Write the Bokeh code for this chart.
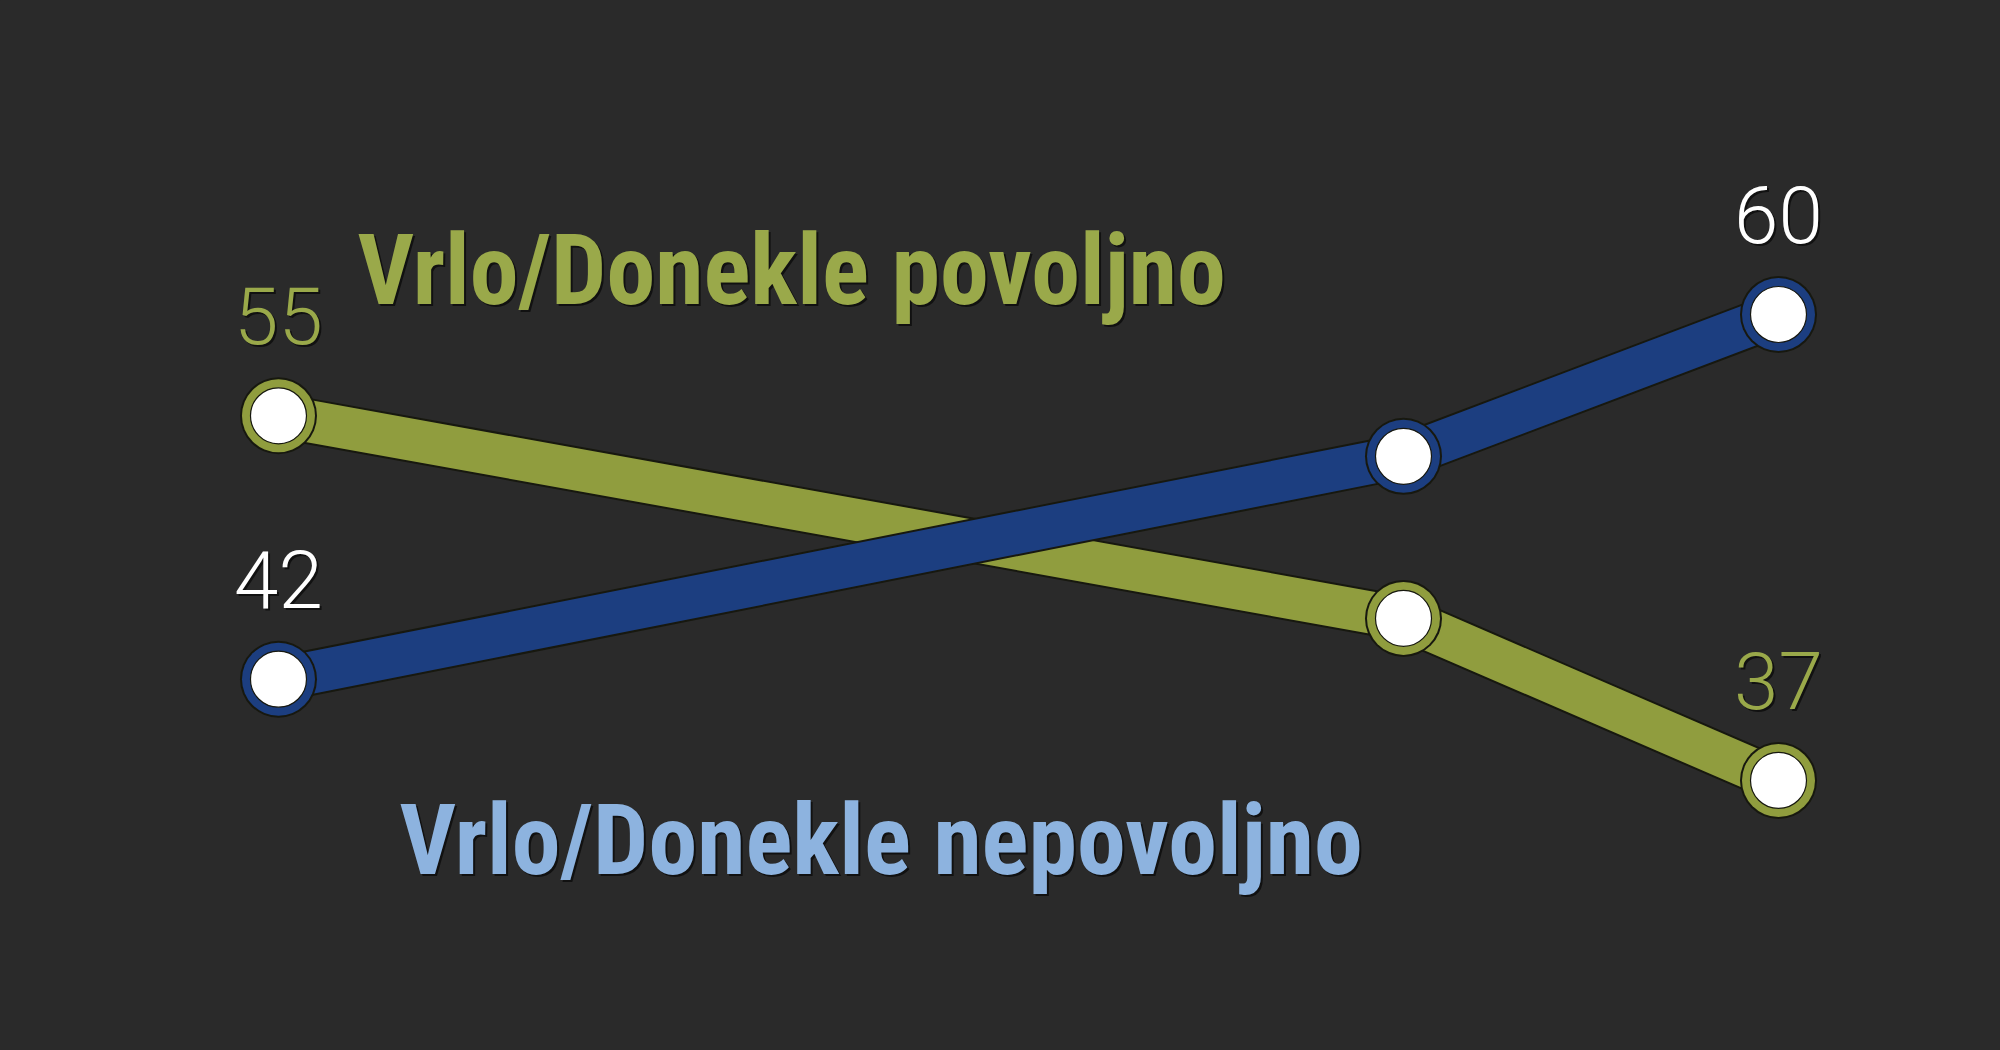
from bokeh.plotting import figure
from bokeh.models import ColumnDataSource, Label, Range1d
from bokeh.core.properties import value
from bokeh.embed import file_html
from bokeh.resources import INLINE

# ---- data ----
survey_points = [0, 3, 4]
povoljno = [55, 45, 37]          # Vrlo/Donekle povoljno
nepovoljno = [42, 53, 60]        # Vrlo/Donekle nepovoljno
label_povoljno = "Vrlo/Donekle povoljno"
label_nepovoljno = "Vrlo/Donekle nepovoljno"

# ---- style ----
BG = "#2a2a2a"
GREEN = "#909d3e"
GREEN_TXT = "#9aa94a"
BLUE = "#1c3e80"
BLUE_TXT = "#8db3df"
DARK = "#17180f"
NUM_FONT = value("'Roboto Light', Roboto, 'Liberation Sans', sans-serif")
TITLE_FONT = ("'Noto Sans Condensed', 'Roboto Condensed', 'Liberation Sans Narrow', "
              "'Open Sans Condensed', Roboto, sans-serif")

p = figure(width=2000, height=1050,
           x_range=Range1d(-0.7413, 4.592), y_range=Range1d(23.672, 75.498),
           x_axis_type=None, y_axis_type=None,
           output_backend="svg", toolbar_location=None,
           background_fill_color=BG, border_fill_color=BG,
           outline_line_color=None,
           min_border=0, min_border_left=0, min_border_right=0,
           min_border_top=0, min_border_bottom=0)
p.grid.visible = False


def end_labels(vals):
    return [str(v) if i in (0, len(vals) - 1) else "" for i, v in enumerate(vals)]


def draw_series(vals, color, num_color):
    src = ColumnDataSource(dict(x=survey_points, y=vals, lab=end_labels(vals)))
    p.line("x", "y", source=src, line_width=46, line_color=DARK, line_join="round")
    p.line("x", "y", source=src, line_width=42, line_color=color, line_join="round")
    p.scatter("x", "y", source=src, size=77, fill_color=DARK, line_color=None)
    p.scatter("x", "y", source=src, size=73, fill_color=color, line_color=None)
    p.scatter("x", "y", source=src, size=56, fill_color="white",
              line_color=DARK, line_width=1.2)
    p.text("x", "y", text="lab", source=src, x_offset=2, y_offset=-98,
           text_align="center", text_baseline="alphabetic",
           text_font=NUM_FONT, text_font_size="80px", text_color="#111111")
    p.text("x", "y", text="lab", source=src, y_offset=-100,
           text_align="center", text_baseline="alphabetic",
           text_font=NUM_FONT, text_font_size="80px", text_color=num_color)


draw_series(povoljno, GREEN, GREEN_TXT)
draw_series(nepovoljno, BLUE, "#ffffff")


def title(text, x, y, color):
    for dx, dy, c in ((2, -2, "#111111"), (0, 0, color)):
        p.add_layout(Label(x=x + dx, y=y + dy, x_units="screen", y_units="screen",
                           text=text, text_font=TITLE_FONT, text_font_size="98px",
                           text_font_style="bold", text_color=c,
                           text_baseline="alphabetic", text_align="left"))


title(label_povoljno, 357, 780, GREEN_TXT)
title(label_nepovoljno, 399, 210, BLUE_TXT)

html = file_html(p, INLINE)
html = html.replace("</head>", "<style>html,body{background:#2a2a2a;}</style></head>", 1)
open("out.html", "w").write(html)
